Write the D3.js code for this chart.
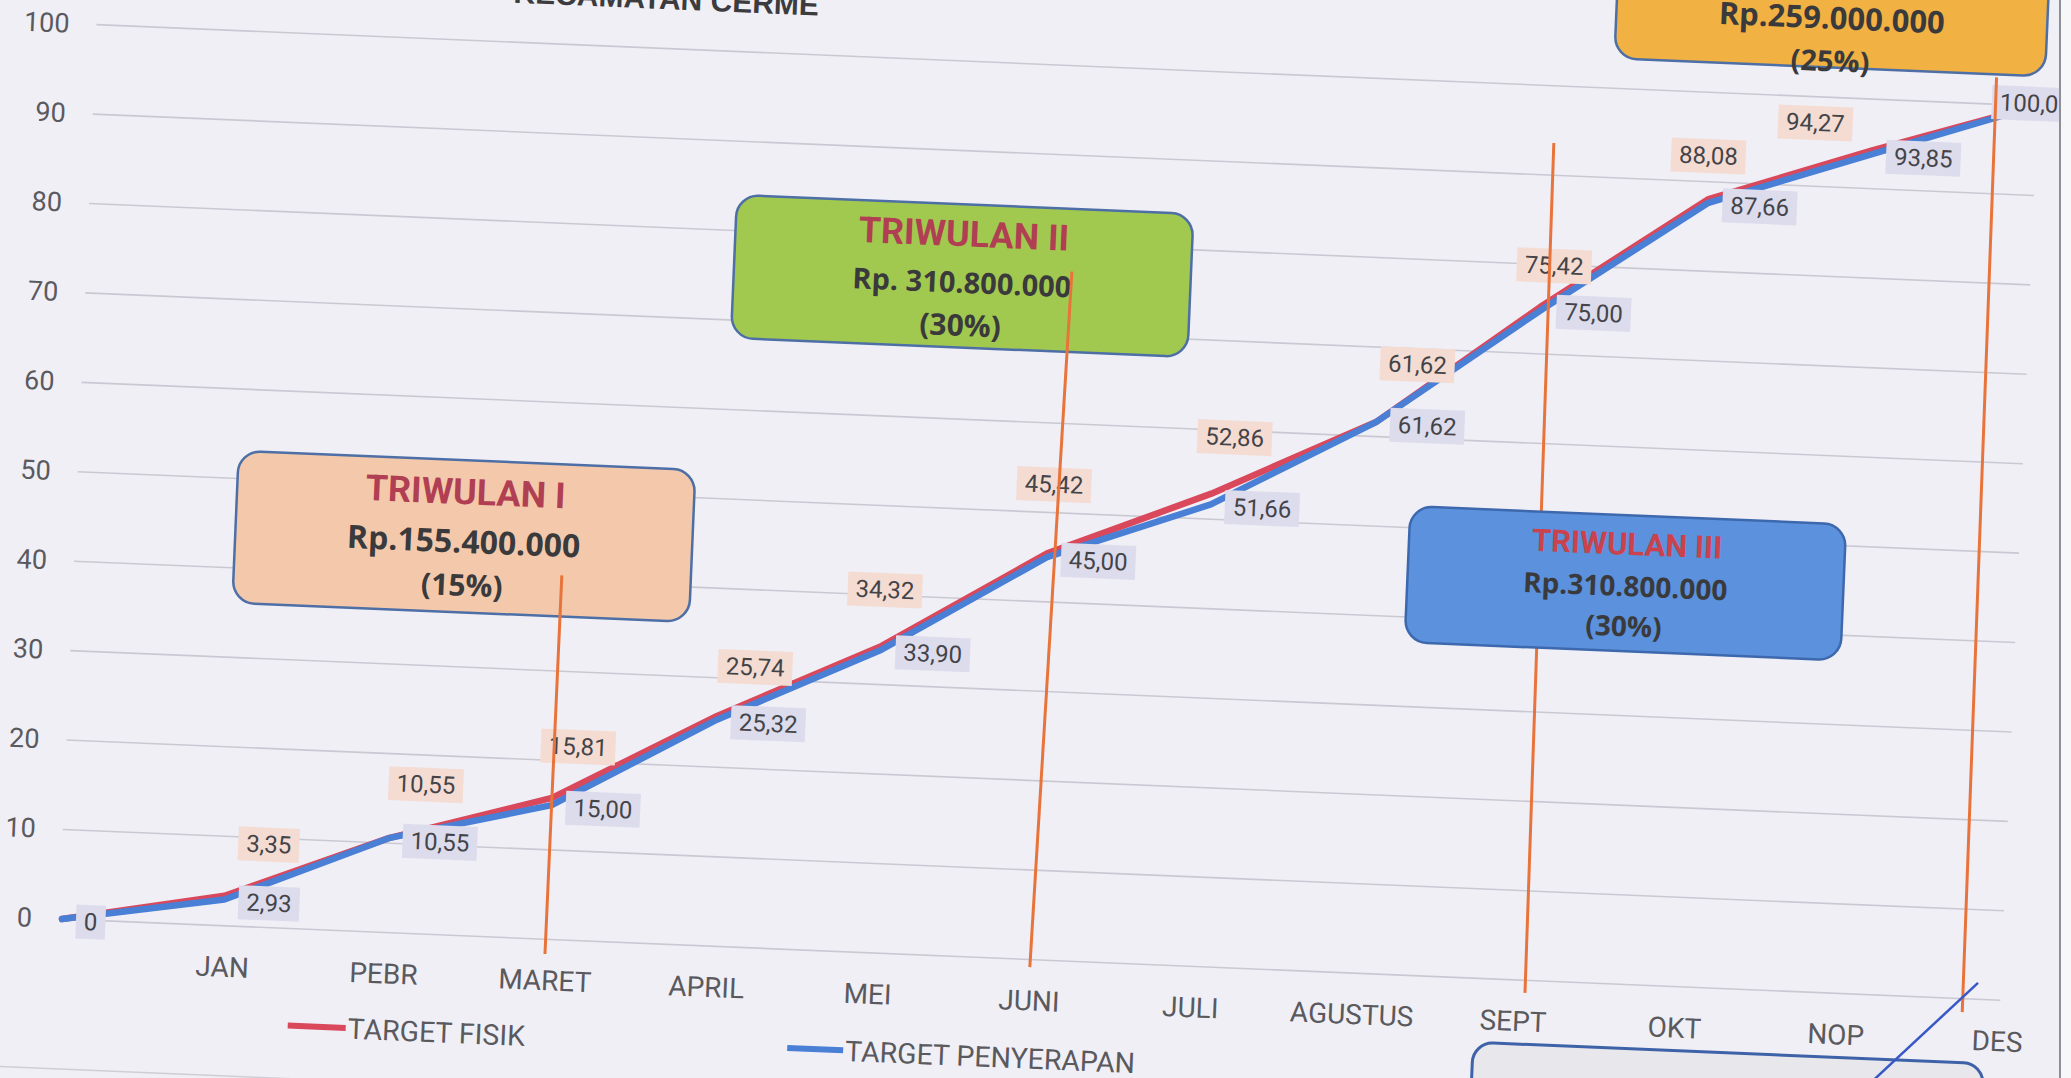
<!DOCTYPE html>
<html lang="id">
<head>
<meta charset="UTF-8">
<title>Target Fisik dan Penyerapan - Kecamatan Cerme</title>
<script src="https://d3js.org/d3.v7.min.js"></script>
<style>
  body { margin: 0; background: #f0eff6; }
  svg { display: block; }
</style>
</head>
<body>
<div id="chart"></div>
<script>
// ---- data ----
const months = ["", "JAN", "PEBR", "MARET", "APRIL", "MEI", "JUNI", "JULI", "AGUSTUS", "SEPT", "OKT", "NOP", "DES"];
const targetFisik = [0, 3.35, 10.55, 15.81, 25.74, 34.32, 45.42, 52.86, 61.62, 75.42, 88.08, 94.27, 100];
const targetPenyerapan = [0, 2.93, 10.55, 15.00, 25.32, 33.90, 45.00, 51.66, 61.62, 75.00, 87.66, 93.85, 100];
const yTicks = [0, 10, 20, 30, 40, 50, 60, 70, 80, 90, 100];
const seriesNames = ["TARGET FISIK", "TARGET PENYERAPAN"];
const quarterTitles = ["TRIWULAN I", "TRIWULAN II", "TRIWULAN III", "TRIWULAN IV"];
const quarterAmounts = ["Rp.155.400.000", "Rp. 310.800.000", "Rp.310.800.000", "Rp.259.000.000"];
const quarterShares = ["(15%)", "(30%)", "(30%)", "(25%)"];
const chartTitle = "KECAMATAN  CERME";

// ---- layout (index / value units of the chart, px offsets) ----
// red labels were dragged by hand in the original, so each one has its own shift
const fisikLabelShift = [null, [42, -53], [35, -55], [24, -52], [36, -50], [1, -56], [4, -69],
  [21, -57], [39, -59], [10, -40], [-2, -43], [-58, -25], null];
const quarterBoxes = [
  { i0: 0.972, i1: 3.802, v0: 53.1, v1: 36.1, fill: "#f4c9ab", stroke: "#4d6fa6", titleColor: "#b13f53",
    sizes: [36, 32, 30], rows: [32, 80, 124], front: false },
  { i0: 3.988, i1: 6.817, v0: 84.0, v1: 68.0, fill: "#a2c94f", stroke: "#4d6fa6", titleColor: "#b13f53",
    sizes: [36, 29, 30], rows: [30, 77, 120], front: false },
  { i0: 8.235, i1: 10.935, v0: 52.4, v1: 37.2, fill: "#5b91dd", stroke: "#3d68ad", titleColor: "#c9424c",
    sizes: [31, 28, 28], rows: [29, 70, 110], front: true },
  { i0: 9.381, i1: 12.05, v0: 118.5, v1: 103.35, fill: "#f1b143", stroke: "#4d6fa6", titleColor: "#b13f53",
    sizes: [34, 31, 29], rows: [40, 85, 128], front: true }
];
// orange dividers: [index top, value top, index bottom, value bottom]
const dividers = [[3.003, 40.7, 2.997, -1.65], [6.08, 77.0, 6.0, -0.85],
  [9.028, 93.6, 9.07, -1.4], [11.75, 103.0, 11.78, -1.5]];

const W = 2071, H = 1078;
const CAL = "Roboto, 'Liberation Sans', sans-serif";
const BOX = "'Open Sans', 'DejaVu Sans', sans-serif";
const red = "#d9485b", blue = "#4a7fd6";

const svg = d3.select("#chart").append("svg")
  .attr("width", W).attr("height", H);

svg.append("rect").attr("width", W).attr("height", H).attr("fill", "#f0eff6");

// the page was scanned a little crooked
const g = svg.append("g").attr("transform", "translate(62,919) rotate(2.4)");

const x = d3.scalePoint().domain(months).range([0, 1938]);
const xi = d3.scaleLinear().domain([0, months.length - 1]).range(x.range());
const y = d3.scaleLinear().domain([0, 100]).range([0, -895]);

// gridlines
g.append("g").selectAll("line").data(yTicks).join("line")
  .attr("x1", -3).attr("x2", x.range()[1] + 2)
  .attr("y1", d => y(d)).attr("y2", d => y(d))
  .attr("stroke", "#cac9d3").attr("stroke-width", 1.6);

// faint chart border at the bottom
g.append("line").attr("x1", -300).attr("x2", 2300).attr("y1", 150).attr("y2", 150)
  .attr("stroke", "#cfced6").attr("stroke-width", 1.5);

// axes
const yAxis = g.append("g").call(d3.axisLeft(y).tickValues(yTicks).tickSize(0).tickPadding(30));
yAxis.select(".domain").remove();
yAxis.selectAll("text").attr("font-family", CAL).attr("font-size", 27).attr("fill", "#5a5a5e");

const xAxis = g.append("g").call(d3.axisBottom(x).tickSize(0).tickPadding(31));
xAxis.select(".domain").remove();
xAxis.selectAll("text").attr("font-family", CAL).attr("font-size", 28).attr("fill", "#5a5a5e");

// title (only its bottom edge is on the scan)
g.append("text")
  .attr("x", xi(3.5)).attr("y", y(104.4))
  .attr("text-anchor", "middle")
  .attr("font-family", "'Liberation Sans', Arial, sans-serif")
  .attr("font-weight", "bold").attr("font-size", 30).attr("fill", "#3c3c3f")
  .text(chartTitle);

// lines
const line = d3.line().x((d, i) => x(months[i])).y(d => y(d));
g.append("path").datum(targetFisik).attr("d", line)
  .attr("fill", "none").attr("stroke", red).attr("stroke-width", 6.5)
  .attr("stroke-linejoin", "round").attr("stroke-linecap", "round");
g.append("path").datum(targetPenyerapan).attr("d", line)
  .attr("fill", "none").attr("stroke", blue).attr("stroke-width", 6.5)
  .attr("stroke-linejoin", "round").attr("stroke-linecap", "round");

const fmt = v => v === 0 ? "0" : v.toFixed(2).replace(".", ",");

function label(sel, cx, cy, txt, fill, anchor) {
  const lg = sel.append("g");
  const rect = lg.append("rect");
  const t = lg.append("text")
    .attr("font-family", CAL).attr("font-size", 24).attr("fill", "#444448")
    .attr("dominant-baseline", "central").attr("text-anchor", "middle")
    .text(txt);
  const w = t.node().getComputedTextLength() + 16, h = 34;
  const left = anchor === "left" ? cx : cx - w / 2;
  t.attr("x", left + w / 2).attr("y", cy);
  rect.attr("x", left).attr("y", cy - h / 2).attr("width", w).attr("height", h).attr("fill", fill);
}

const labels = g.append("g");
targetFisik.forEach((v, i) => {
  const s = fisikLabelShift[i];
  if (!s) return;
  label(labels, x(months[i]) + s[0], y(v) + s[1], fmt(v), "#f4dcd3", "center");
});
targetPenyerapan.forEach((v, i) => {
  const last = i === targetPenyerapan.length - 1;
  if (last) label(labels, x(months[i]), y(v) - 2, fmt(v), "#dcdced", "center");
  else label(labels, x(months[i]) + 14, y(v) + 2, fmt(v), "#dcdced", "left");
});

// legend
const legend = [[230, 288, 97, red], [730, 786, 98.5, blue]];
legend.forEach((l, k) => {
  g.append("line").attr("x1", l[0]).attr("x2", l[1]).attr("y1", l[2]).attr("y2", l[2])
    .attr("stroke", l[3]).attr("stroke-width", 6);
  g.append("text").attr("x", l[1] + 2).attr("y", l[2] + 1)
    .attr("dominant-baseline", "central")
    .attr("font-family", CAL).attr("font-size", 28.5).attr("fill", "#5a5a5e")
    .text(seriesNames[k]);
});

function drawBox(b, k) {
  const bx = g.append("g");
  const x0 = xi(b.i0), x1 = xi(b.i1), y0 = y(b.v0), y1 = y(b.v1);
  bx.append("rect").attr("x", x0).attr("y", y0)
    .attr("width", x1 - x0).attr("height", y1 - y0)
    .attr("rx", 22).attr("fill", b.fill).attr("stroke", b.stroke).attr("stroke-width", 2.5);
  const cx = (x0 + x1) / 2;
  const rows = [[quarterTitles[k], b.titleColor, CAL], [quarterAmounts[k], "#3a3a3c", BOX], [quarterShares[k], "#3a3a3c", BOX]];
  rows.forEach((r, j) => {
    bx.append("text").attr("x", cx).attr("y", y0 + b.rows[j])
      .attr("text-anchor", "middle").attr("dominant-baseline", "central")
      .attr("font-family", r[2]).attr("font-weight", "bold")
      .attr("font-size", b.sizes[j]).attr("fill", r[1])
      .text(r[0]);
  });
}

quarterBoxes.forEach((b, k) => { if (!b.front) drawBox(b, k); });

g.append("g").selectAll("line").data(dividers).join("line")
  .attr("x1", d => xi(d[0])).attr("y1", d => y(d[1]))
  .attr("x2", d => xi(d[2])).attr("y2", d => y(d[3]))
  .attr("stroke", "#e8743b").attr("stroke-width", 3);

quarterBoxes.forEach((b, k) => { if (b.front) drawBox(b, k); });

// grey note box at the bottom, mostly off the scan
g.append("rect")
  .attr("x", xi(8.762)).attr("y", y(-7.15))
  .attr("width", xi(11.926) - xi(8.762)).attr("height", 200)
  .attr("rx", 20).attr("fill", "#e7e7ec").attr("stroke", "#3e62a8").attr("stroke-width", 3);

// pointer line
g.append("line")
  .attr("x1", xi(11.87)).attr("y1", y(1.83))
  .attr("x2", xi(10.545)).attr("y2", y(-22.35))
  .attr("stroke", "#3858c8").attr("stroke-width", 2.5);

// paper edge on the right
svg.append("rect").attr("x", 2060).attr("y", 0).attr("width", W - 2060).attr("height", H).attr("fill", "#f7f7fa");
svg.append("line").attr("x1", 2060).attr("x2", 2060).attr("y1", 0).attr("y2", H)
  .attr("stroke", "#8e8e96").attr("stroke-width", 2);
</script>
</body>
</html>
